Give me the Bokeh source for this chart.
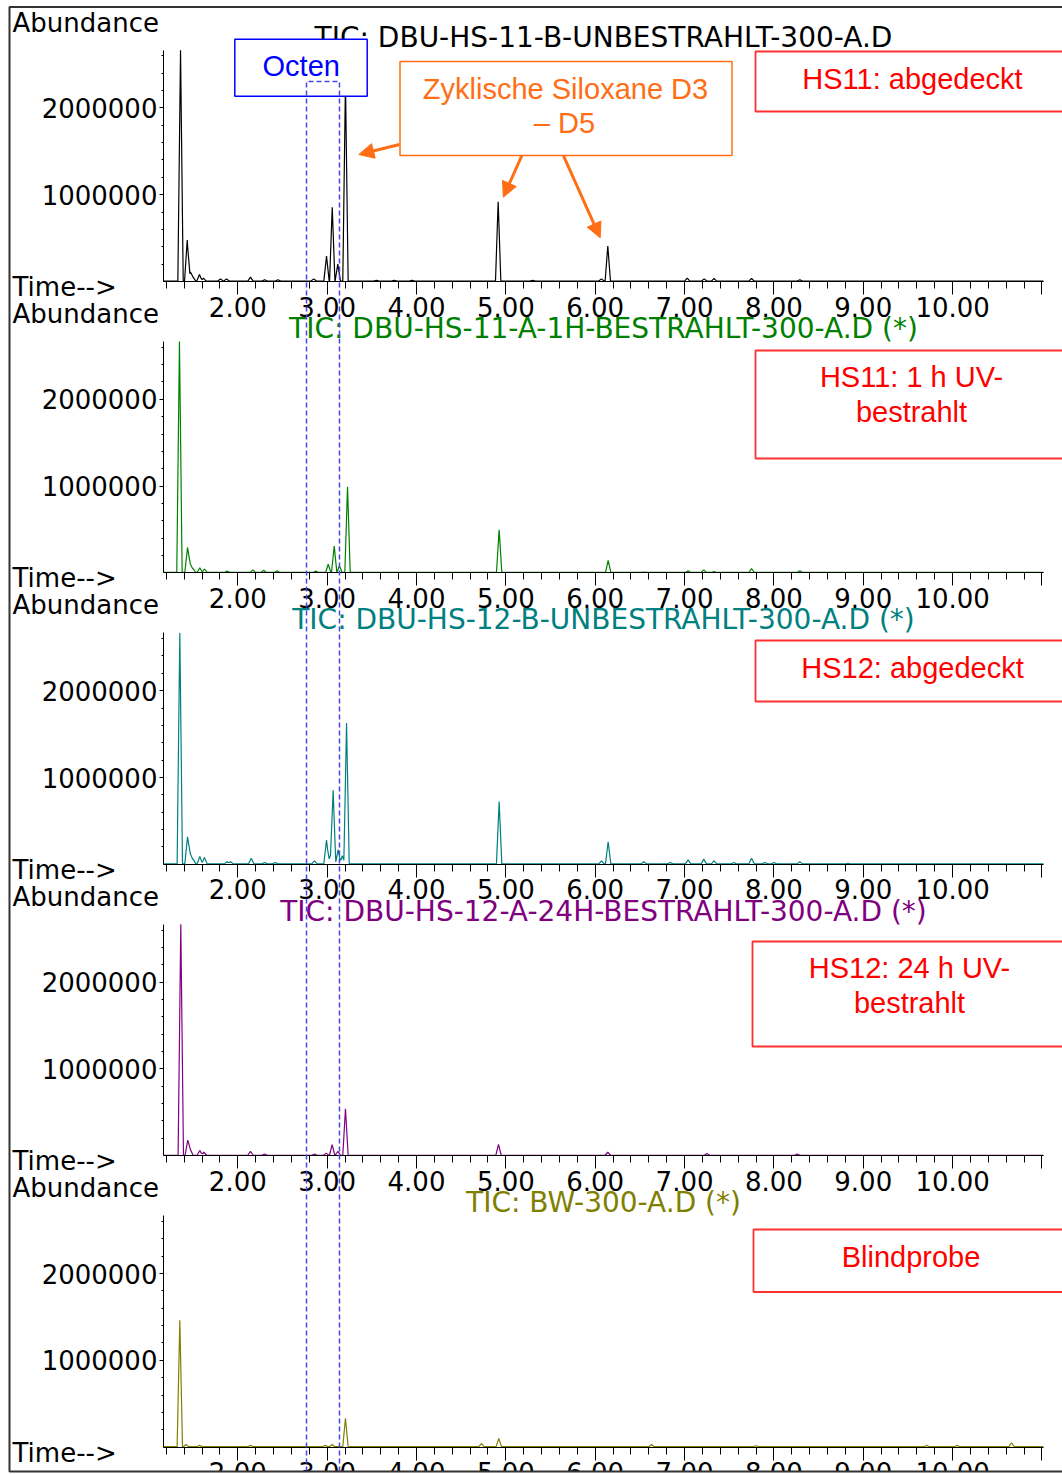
import numpy as np
from bokeh.plotting import figure
from bokeh.models import Range1d, LinearAxis, FixedTicker, CustomJSTickFormatter, Arrow, NormalHead
from bokeh.core.properties import value
from bokeh.embed import file_html
from bokeh.resources import INLINE

# ---------------- data ----------------
TITLES = ["TIC: DBU-HS-11-B-UNBESTRAHLT-300-A.D",
          "TIC: DBU-HS-11-A-1H-BESTRAHLT-300-A.D (*)",
          "TIC: DBU-HS-12-B-UNBESTRAHLT-300-A.D (*)",
          "TIC: DBU-HS-12-A-24H-BESTRAHLT-300-A.D (*)",
          "TIC: BW-300-A.D (*)"]
COLORS = ["#000000", "#008000", "#008080", "#800080", "#808000"]

# retention time (min) and abundance of the peaks of each trace
RT1 = [1.359, 1.434, 1.470, 1.500, 1.571, 1.616, 1.806, 1.874, 2.142, 2.300, 2.450, 2.850,
       2.993, 3.057, 3.119, 3.205, 3.550, 3.750, 3.950, 4.914, 5.300, 6.070, 6.141,
       7.030, 7.220, 7.330, 7.750, 8.290]
AB1 = [2665000, 478000, 110000, 50000, 80000, 40000, 30000, 30000, 50000, 20000, 20000, 30000,
       294000, 855000, 200000, 2300000, 15000, 15000, 15000, 919000, 15000, 30000, 409000,
       40000, 30000, 35000, 35000, 20000]

RT2 = [1.347, 1.437, 1.467, 1.500, 1.575, 1.627, 1.880, 2.168, 2.290, 2.440, 2.873,
       3.012, 3.079, 3.138, 3.228, 4.925, 6.145, 6.544, 7.040, 7.215, 7.330, 7.750, 8.290]
AB2 = [2665000, 293000, 110000, 50000, 60000, 45000, 20000, 35000, 30000, 25000, 20000,
       100000, 310000, 80000, 992000, 497000, 143000, 10000, 25000, 35000, 15000, 50000, 25000]

RT3 = [1.351, 1.437, 1.467, 1.500, 1.575, 1.627, 1.880, 1.920, 2.150, 2.300, 2.420, 2.858,
       2.993, 3.035, 3.067, 3.123, 3.170, 3.217, 4.925, 6.070, 6.145, 6.544, 6.840,
       7.040, 7.215, 7.330, 7.550, 7.750, 7.900, 8.000, 8.290, 8.830]
AB3 = [2665000, 316000, 130000, 60000, 90000, 80000, 30000, 30000, 70000, 20000, 20000, 40000,
       280000, 100000, 853000, 170000, 100000, 1629000, 722000, 40000, 260000, 30000, 20000,
       50000, 60000, 40000, 20000, 70000, 20000, 20000, 30000, 10000]

RT4 = [1.362, 1.440, 1.470, 1.575, 1.620, 2.142, 2.300, 2.860, 2.989, 3.056, 3.120, 3.205,
       4.918, 6.141, 7.250, 8.260]
AB4 = [2665000, 180000, 70000, 60000, 40000, 50000, 20000, 20000, 30000, 127000, 50000, 541000,
       130000, 40000, 25000, 20000]

RT5 = [1.351, 1.420, 1.571, 2.142, 2.980, 3.056, 3.205, 4.727, 4.921, 6.630, 7.800,
       9.710, 10.050, 10.660]
AB5 = [1462000, 30000, 20000, 20000, 20000, 30000, 333000, 40000, 100000, 30000, 15000,
       20000, 20000, 50000]

PEAKS = [(RT1, AB1), (RT2, AB2), (RT3, AB3), (RT4, AB4), (RT5, AB5)]

X_TICKS = [2, 3, 4, 5, 6, 7, 8, 9, 10, 11]
X_MINOR = [1.2, 1.4, 1.6, 1.8, 2.2, 2.4, 2.6, 2.8, 3.2, 3.4, 3.6, 3.8, 4.2, 4.4, 4.6, 4.8,
           5.2, 5.4, 5.6, 5.8, 6.2, 6.4, 6.6, 6.8, 7.2, 7.4, 7.6, 7.8, 8.2, 8.4, 8.6, 8.8,
           9.2, 9.4, 9.6, 9.8, 10.2, 10.4, 10.6, 10.8]
Y_TICKS = [1000000, 2000000]
Y_MINOR = [200000, 400000, 600000, 800000, 1200000, 1400000, 1600000, 1800000,
           2200000, 2400000, 2600000]

Y_LABEL = "Abundance"
X_LABEL = "Time-->"

# annotations (page pixel positions)
RED_BOXES = [  # left, top, bottom, lines, text centre x, line centres y
    (755, 51, 111, ["HS11: abgedeckt"], 912, [78]),
    (755, 350, 458, ["HS11: 1 h UV-", "bestrahlt"], 911, [376.7, 411]),
    (755, 640, 701, ["HS12: abgedeckt"], 912, [667]),
    (752, 941, 1046, ["HS12: 24 h UV-", "bestrahlt"], 909, [967.7, 1002]),
    (753, 1229, 1291.5, ["Blindprobe"], 910.5, [1256.7]),
]
ORANGE = "#FF6E14"
OCTEN_WINDOW = (2.769, 3.138)   # minutes

# ---------------- geometry ----------------
W, H = 1062, 1474
X0, Y0 = 0, 0
PX2, PXMIN = 237.3, 89.35          # page x of 2.00 min, px per min
Z0, DZ = 281.0, 291.4              # page y of zero of the first panel, panel pitch
S = 86.8 / 1e6                     # px per abundance unit
T_START, T_END = 1.168, 11.017
Y_TOP = 2665000
HW = 0.03
BASE = 5000

t_left = 2 + (X0 - PX2) / PXMIN
t_right = 2 + (X0 + W - PX2) / PXMIN

p = figure(width=W, height=H, x_range=Range1d(t_left, t_right), y_range=Range1d(Y0 + H, Y0),
           x_axis_type=None, y_axis_type=None, toolbar_location=None, output_backend="svg",
           min_border=0, outline_line_color=None)
p.min_border_left = p.min_border_right = p.min_border_top = p.min_border_bottom = 0

ranges = {}
for k in range(5):
    z = Z0 + DZ * k
    ranges[f"p{k}"] = Range1d((z - (Y0 + H)) / S, (z - Y0) / S)
p.extra_y_ranges = ranges
p.extra_x_ranges = {"px": Range1d(X0, X0 + W)}


def trace(rts, abund):
    pts = {T_START, T_END}
    for r in rts:
        for d in (-HW, 0.0, HW):
            x = round(r + d, 4)
            if T_START <= x <= T_END:
                pts.add(x)
    xs = sorted(pts)
    ys = []
    for x in xs:
        v = BASE
        for r, h in zip(rts, abund):
            d = abs(x - r)
            if d < HW:
                v = max(v, BASE + (h - BASE) * (1 - d / HW))
        ys.append(v)
    return xs, ys


FONT = "DejaVu Sans"
ANN_FONT = "Liberation Sans"
ANN_SIZE = "29px"

x_fmt = CustomJSTickFormatter(code="return tick < 10.5 ? tick.toFixed(2) : '';")
y_fmt = CustomJSTickFormatter(code="return tick.toFixed(0);")

for k in range(5):
    rn = f"p{k}"
    xs, ys = trace(*PEAKS[k])
    p.line(xs, ys, y_range_name=rn, line_color=COLORS[k], line_width=1.2)

    xa = LinearAxis(y_range_name=rn, fixed_location=0, bounds=(T_START, T_END),
                    ticker=FixedTicker(ticks=X_TICKS, minor_ticks=X_MINOR), formatter=x_fmt,
                    axis_line_color="black", axis_line_width=1,
                    major_tick_in=0, major_tick_out=13, minor_tick_in=0, minor_tick_out=7,
                    major_tick_line_color="black", minor_tick_line_color="black",
                    major_label_text_font=FONT, major_label_text_font_size="26px",
                    major_label_text_color="black", major_label_standoff=2)
    p.add_layout(xa, "below")
    ya = LinearAxis(y_range_name=rn, fixed_location=T_START, bounds=(0, Y_TOP),
                    ticker=FixedTicker(ticks=Y_TICKS, minor_ticks=Y_MINOR), formatter=y_fmt,
                    axis_line_color="black", axis_line_width=1,
                    major_tick_in=0, major_tick_out=4, minor_tick_in=0, minor_tick_out=2,
                    major_tick_line_color="black", minor_tick_line_color="black",
                    major_label_text_font=FONT, major_label_text_font_size="26px",
                    major_label_text_color="black", major_label_standoff=2)
    p.add_layout(ya, "left")

    p.text(x=[12], y=[22 + DZ * k], text=[Y_LABEL], x_range_name="px",
           text_font=value(FONT), text_font_size="26px", text_color="black",
           text_align="left", text_baseline="middle")
    p.text(x=[12], y=[286.5 + DZ * k], text=[X_LABEL], x_range_name="px",
           text_font=value(FONT), text_font_size="26px", text_color="black",
           text_align="left", text_baseline="middle")
    p.text(x=[603], y=[36.5 + DZ * k], text=[TITLES[k]], x_range_name="px",
           text_font=value(FONT), text_font_size="28px", text_color=COLORS[k],
           text_align="center", text_baseline="middle")

# Octen box
p.quad(left=[234.3], right=[366.7], top=[38.7], bottom=[95.7], x_range_name="px",
       fill_color="white", line_color="#0000FF", line_width=1.5)
p.text(x=[300.7], y=[65.5], text=["Octen"], x_range_name="px", text_font=value(ANN_FONT),
       text_font_size=ANN_SIZE, text_color="#0000FF", text_align="center", text_baseline="middle")

# red sample boxes
for left, top, bottom, lines, cx, cys in RED_BOXES:
    p.quad(left=[left], right=[1090], top=[top], bottom=[bottom], x_range_name="px",
           fill_color="white", line_color="#FF3030", line_width=1.8)
    p.text(x=[cx] * len(lines), y=cys, text=lines, x_range_name="px", text_font=value(ANN_FONT),
           text_font_size=ANN_SIZE, text_color="#FF0000", text_align="center",
           text_baseline="middle")

# orange siloxane box
p.quad(left=[399.5], right=[731.5], top=[61], bottom=[155], x_range_name="px",
       fill_color="white", line_color=ORANGE, line_width=1.5)
p.text(x=[565, 564], y=[88.7, 122], text=["Zyklische Siloxane D3", "\u2013 D5"], x_range_name="px",
       text_font=value(ANN_FONT), text_font_size=ANN_SIZE, text_color=ORANGE,
       text_align="center", text_baseline="middle")
for xs_, ys_, xe, ye in [(399, 144, 358.3, 154), (521.4, 155, 502.8, 196.7), (562.9, 155, 599.7, 237.3)]:
    p.add_layout(Arrow(end=NormalHead(size=15, fill_color=ORANGE, line_color=ORANGE, line_width=1),
                       x_start=xs_, y_start=ys_, x_end=xe, y_end=ye, x_range_name="px",
                       line_color=ORANGE, line_width=3))

# dashed Octen window
r = p.line(x=[OCTEN_WINDOW[0], OCTEN_WINDOW[0], OCTEN_WINDOW[1], OCTEN_WINDOW[1]],
           y=[1471, 81, 81, 1471], line_color="#4646E6", line_width=1.5, line_dash="5 3")
r.level = "overlay"

# outer frame
r = p.quad(left=[0], right=[1062], top=[1471], bottom=[1474], x_range_name="px",
           fill_color="white", line_color=None)
r.level = "overlay"
r = p.line(x=[1062, 9, 9, 1062], y=[6.5, 6.5, 1471, 1471], x_range_name="px",
           line_color="#333333", line_width=2)
r.level = "overlay"

open("out.html", "w").write(file_html(p, INLINE))
